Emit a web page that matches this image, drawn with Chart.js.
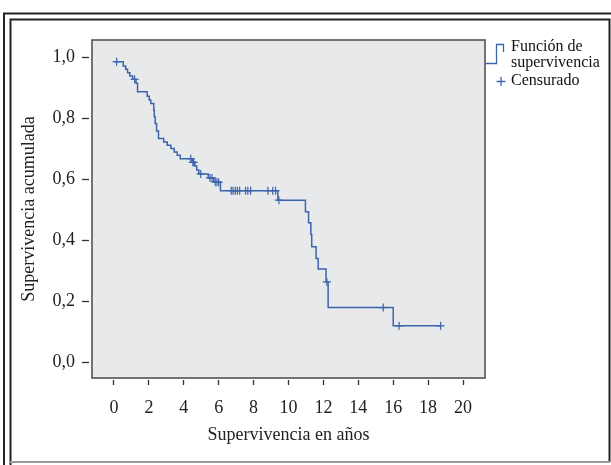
<!DOCTYPE html>
<html><head><meta charset="utf-8">
<script src="https://cdn.jsdelivr.net/npm/chart.js@4/dist/chart.umd.min.js"></script>
<style>html,body{margin:0;padding:0;background:#fff}canvas{display:block}</style>
</head><body>
<canvas id="c" width="611" height="465"></canvas>
<script>
// Kaplan-Meier step points: time of each drop (years) and survival after it
const stepTimes = [0, 0.53, 0.67, 0.78, 0.91, 1.07, 1.26, 1.35, 1.90, 2.02, 2.11, 2.28, 2.31, 2.36, 2.44, 2.55,
  2.85, 3.05, 3.26, 3.45, 3.62, 3.80, 4.47, 4.63, 4.74, 4.86, 5.40, 5.72, 6.10, 9.39,
  10.97, 11.15, 11.28, 11.33, 11.58, 11.70, 12.15, 12.27, 16.00, 18.72];
const stepSurvival = [0.985, 0.971, 0.960, 0.949, 0.938, 0.927, 0.914, 0.886, 0.872, 0.859, 0.848, 0.826, 0.804, 0.782, 0.758, 0.733,
  0.722, 0.711, 0.700, 0.689, 0.678, 0.667, 0.655, 0.643, 0.630, 0.617, 0.604, 0.590, 0.562, 0.531,
  0.493, 0.457, 0.418, 0.378, 0.340, 0.305, 0.263, 0.179, 0.119, 0.119];
// Censored observations
const censorTimes = [0.15, 1.18, 4.40, 4.52, 4.57, 4.97, 5.50, 5.62, 5.80, 5.90, 6.00,
  6.72, 6.82, 6.95, 7.07, 7.20, 7.54, 7.67, 7.83, 8.82, 9.10, 9.26, 9.45, 12.20, 15.43, 16.34, 18.72];
const censorSurvival = [0.985, 0.927, 0.667, 0.655, 0.655, 0.617, 0.604, 0.604, 0.590, 0.590, 0.590,
  0.562, 0.562, 0.562, 0.562, 0.562, 0.562, 0.562, 0.562, 0.562, 0.562, 0.562, 0.531, 0.263, 0.179, 0.119, 0.119];
const xTickValues = [0, 2, 4, 6, 8, 10, 12, 14, 16, 18, 20];
const yTickValues = [0, 0.2, 0.4, 0.6, 0.8, 1.0];
const yTickLabels = ['0,0', '0,2', '0,4', '0,6', '0,8', '1,0'];
const xTitle = 'Supervivencia en años';
const yTitle = 'Supervivencia acumulada';
const legendLine1 = ['Función de', 'supervivencia'];
const legendLine2 = ['Censurado'];

const FAMILY = "'Liberation Serif', 'Times New Roman', serif";
const FONT = {family: FAMILY, size: 18};
const BLUE = '#3d64ad';
const TEXT = '#222';

const framePlugin = {
  id: 'frame',
  beforeDraw(chart) {
    const c = chart.ctx, a = chart.chartArea;
    c.save();
    c.fillStyle = '#fff';
    c.fillRect(0, 0, chart.width, chart.height);
    c.strokeStyle = '#222';
    c.lineWidth = 2;
    c.beginPath();
    c.moveTo(4, chart.height); c.lineTo(4, 13.5); c.lineTo(chart.width, 13.5);
    c.stroke();
    c.beginPath();
    c.moveTo(10.5, chart.height); c.lineTo(10.5, 19.5); c.lineTo(609.5, 19.5); c.lineTo(609.5, 462);
    c.stroke();
    c.strokeStyle = '#9a9a9a';
    c.beginPath(); c.moveTo(10, 462); c.lineTo(610, 462); c.stroke();
    c.fillStyle = '#e8e9ea';
    c.fillRect(a.left, a.top, a.right - a.left, a.bottom - a.top);
    c.strokeStyle = '#4a4a4a';
    c.lineWidth = 1.5;
    c.strokeRect(a.left, a.top, a.right - a.left, a.bottom - a.top);
    c.restore();
  }
};

const legendPlugin = {
  id: 'kmLegend',
  afterDraw(chart) {
    const c = chart.ctx;
    c.save();
    c.strokeStyle = BLUE;
    c.lineWidth = 1.3;
    c.beginPath();
    c.moveTo(486, 63.5); c.lineTo(496.5, 63.5); c.lineTo(496.5, 44.5); c.lineTo(503.5, 44.5); c.lineTo(503.5, 52);
    c.stroke();
    c.beginPath();
    c.moveTo(496.5, 81.5); c.lineTo(505.5, 81.5);
    c.moveTo(501, 77); c.lineTo(501, 86);
    c.stroke();
    c.fillStyle = '#111';
    c.font = '16px ' + FAMILY;
    c.textBaseline = 'alphabetic';
    c.textAlign = 'left';
    c.fillText(legendLine1[0], 511, 51);
    c.fillText(legendLine1[1], 511, 67);
    c.fillText(legendLine2[0], 511, 85);
    c.restore();
  }
};

new Chart(document.getElementById('c'), {
  type: 'line',
  data: {
    datasets: [
      {
        label: legendLine1.join(' '),
        data: stepTimes.map((t, i) => ({x: t, y: stepSurvival[i]})),
        stepped: 'before',
        borderColor: BLUE,
        borderWidth: 1.5,
        pointRadius: 0,
        fill: false
      },
      {
        type: 'scatter',
        label: legendLine2[0],
        data: censorTimes.map((t, i) => ({x: t, y: censorSurvival[i]})),
        showLine: false,
        pointStyle: 'cross',
        pointRadius: 4,
        pointBorderWidth: 1.2,
        borderColor: BLUE,
        backgroundColor: BLUE
      }
    ]
  },
  options: {
    responsive: false,
    animation: false,
    devicePixelRatio: 1,
    layout: {padding: {left: 0, top: 40, right: 126, bottom: 0}},
    plugins: {legend: {display: false}, tooltip: {enabled: false}},
    scales: {
      x: {
        type: 'linear',
        min: -1.26, max: 21.26,
        afterBuildTicks: s => { s.ticks = xTickValues.map(v => ({value: v})); },
        afterFit: s => { s.height = 87; },
        border: {display: false},
        grid: {drawOnChartArea: false, drawTicks: true, tickLength: 9, tickColor: '#333', tickWidth: 1.3,
               tickBorderDash: [5, 10], tickBorderDashOffset: 13},
        ticks: {padding: 10, color: TEXT, font: FONT, maxRotation: 0, autoSkip: false,
                callback: v => String(v)},
        title: {display: true, text: xTitle, color: TEXT, font: FONT, padding: {top: 0, bottom: 19}}
      },
      y: {
        type: 'linear',
        min: -0.052, max: 1.056,
        afterBuildTicks: s => { s.ticks = yTickValues.map(v => ({value: v})); },
        afterFit: s => { s.width = 92; },
        border: {display: false},
        grid: {drawOnChartArea: false, drawTicks: true, tickLength: 10, tickColor: '#333', tickWidth: 1.3,
               tickBorderDash: [7, 10]},
        ticks: {padding: 7, color: TEXT, font: FONT, autoSkip: false,
                callback: (v) => { const i = yTickValues.findIndex(t => Math.abs(t - v) < 1e-9); return i >= 0 ? yTickLabels[i] : ''; }},
        title: {display: true, text: yTitle, color: TEXT, font: FONT, padding: {top: 18, bottom: 0}}
      }
    }
  },
  plugins: [framePlugin, legendPlugin]
});
</script>
</body></html>
